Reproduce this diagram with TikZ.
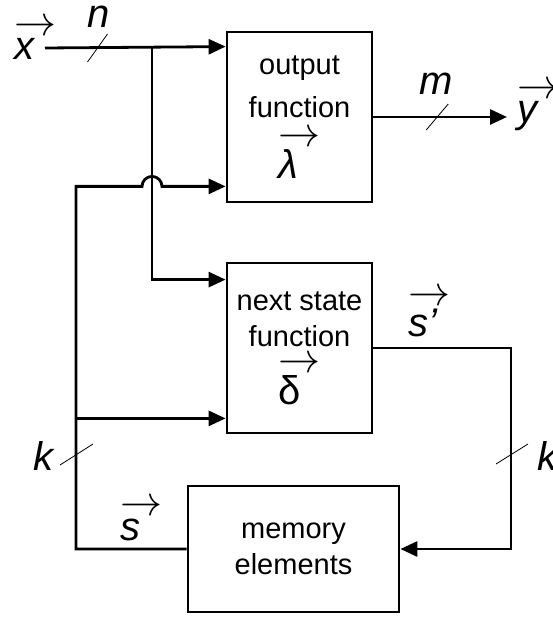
\RequirePackage{fix-cm}
\documentclass[tikz,border=0pt]{standalone}
\usepackage{amsmath}
\usepackage{graphicx}
\usepackage{fontspec}
\setmainfont{Liberation Sans}
\usetikzlibrary{arrows.meta,positioning,calc}

\newcommand{\boxfont}{\fontsize{29}{40}\selectfont}
\newcommand{\symfont}{\fontsize{40}{44}\selectfont}
\newcommand{\vecsym}[1]{\leavevmode\vbox{\offinterlineskip
    \hbox{\scalebox{1.05}{$\rightarrow$}}\kern3pt\hbox{#1}}}

\begin{document}
\begin{tikzpicture}[
    x=1pt, y=-1pt,
    block/.style={rectangle, draw=black, line width=2.8pt, minimum width=145pt, minimum height=170pt, align=center, font=\boxfont, inner sep=0pt},
    wire/.style={line width=2.8pt},
    arrow/.style={wire, -{Triangle[length=17pt,width=15pt]}},
    tick/.style={line width=0.8pt},
    sym/.style={font=\symfont, inner sep=0pt}
]
\useasboundingbox (0,0) rectangle (552,617);

% Blocks
\node[block] (output) at (299.5,117) {output\\[3pt]function\\[13pt]{\symfont\vecsym{\textit{λ}}}};
\node[block] (next) at (299.5,348) {next state\\[-4pt]function\\[9pt]{\symfont\vecsym{δ}}};
\node[block, minimum width=211pt, minimum height=126pt] (memory) at (293.5,549) {memory\\[-4pt]elements};

% Wire points
\coordinate (xin) at (45,48);
\coordinate (split) at (152,48);
\coordinate (yout) at (507,117);
\coordinate (fb) at (76,549);
\coordinate (ret) at (511,400);
\coordinate (outin1) at ($(output.north west)+(0,16)$);
\coordinate (outin2) at ($(output.south west)+(0,-17)$);
\coordinate (nextin1) at ($(next.north west)+(0,18)$);
\coordinate (nextin2) at ($(next.south west)+(0,-16)$);

% Connections
\draw[arrow] (xin) -- (outin1);
\draw[arrow] (split) |- (nextin1);
\draw[arrow] (output.east) -- (yout);
\draw[arrow] (memory.west) -- (fb) -- (outin2 -| fb) -- ($(outin2 -| split)+(-10,0)$)
    arc[start angle=180, end angle=0, radius=10pt] -- (outin2);
\draw[arrow] (nextin2 -| fb) -- (nextin2);
\draw[arrow] (next.east) -- (next.east -| ret) -- (ret |- memory.east) -- (memory.east);

% Bus width ticks
\draw[tick] ($(xin)!0.5!(split)+(-11,14)$) -- ++(20,-28);
\draw[tick] ($(output.east)!0.5!(yout)+(-14,13)$) -- ++(22,-26);
\draw[tick] ($(fb)+(-16,-84)$) -- ++(33,-21);
\draw[tick] ($(ret |- fb)+(-15,-85)$) -- ++(32,-20);

% Labels
\node[sym, anchor=base west] (xlabel) at (14,60) {\vecsym{\textit{x}}};
\node[sym, anchor=base] (nlabel) at (99,28) {\textit{n}};
\node[sym, anchor=base] (mlabel) at (436,95) {\textit{m}};
\node[sym, anchor=base west] (ylabel) at (517,123) {\vecsym{\textit{y}}};
\node[sym, anchor=base west] (splabel) at (408,336) {\vecsym{\textit{s’}}};
\node[sym, anchor=base west] (kleft) at (33,470) {\textit{k}};
\node[sym, anchor=base west] (kright) at (537,470) {\textit{k}};
\node[sym, anchor=base west] (slabel) at (120,540) {\vecsym{\textit{s}}};

\end{tikzpicture}
\end{document}
